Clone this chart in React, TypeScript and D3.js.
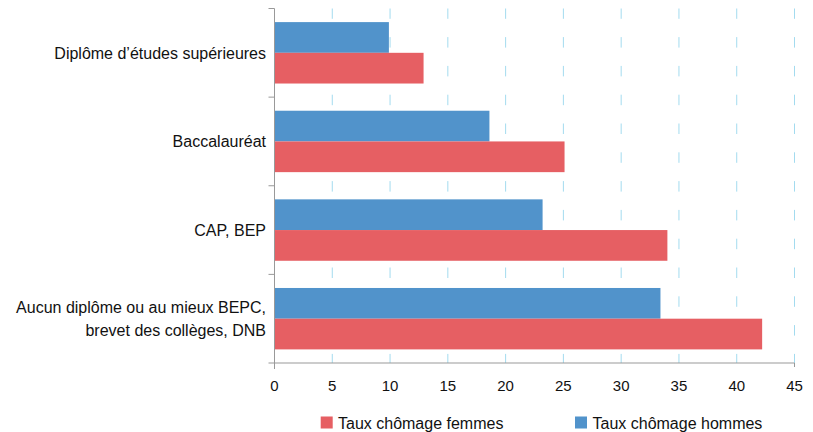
import React from "react";
import * as d3 from "d3";

const categories: string[][] = [
  ["Diplôme d’études supérieures"],
  ["Baccalauréat"],
  ["CAP, BEP"],
  ["Aucun diplôme ou au mieux BEPC,", "brevet des collèges, DNB"],
];
const femmes: number[] = [12.9, 25.1, 34.0, 42.2];
const hommes: number[] = [9.9, 18.6, 23.2, 33.4];
const xTicks: number[] = [0, 5, 10, 15, 20, 25, 30, 35, 40, 45];
const seriesNames: string[] = ["Taux chômage femmes", "Taux chômage hommes"];

const W = 813;
const H = 432;
const RED = "#e65f63";
const BLUE = "#5193cb";
const GRID = "#a3dbef";
const AXIS = "#999999";
const FONT = "'Liberation Sans', Arial, sans-serif";

export default function App() {
  const x = d3.scaleLinear().domain([0, 45]).range([274.5, 794.5]);
  const keys = categories.map((_, i) => String(i));
  const y = d3.scaleBand<string>().domain(keys).range([8.5, 363]).paddingInner(0.307).paddingOuter(0.1535);
  const inner = d3.scaleBand<string>().domain(["h", "f"]).range([0, y.bandwidth()]);
  const step = y.step();
  const top = 8.5;
  const bottom = 363;
  const boundaries = d3.range(0, categories.length).map((i) => top + i * step);

  return (
    <div style={{ position: "fixed", left: 0, top: 0 }}>
      <svg width={W} height={H} style={{ display: "block", background: "#fff" }} fontFamily={FONT}>
        {xTicks.filter((t) => t > 0).map((t) => (
          <line key={"g" + t} x1={x(t)} x2={x(t)} y1={top} y2={bottom} stroke={GRID} strokeWidth={1} strokeDasharray="10.5 18.3" strokeDashoffset={0.2} />
        ))}
        {categories.map((c, i) => {
          const y0 = y(String(i))!;
          return (
            <g key={"b" + i}>
              <rect x={x(0)} y={y0 + inner("h")!} width={x(hommes[i]) - x(0)} height={inner.bandwidth()} fill={BLUE} />
              <rect x={x(0)} y={y0 + inner("f")!} width={x(femmes[i]) - x(0)} height={inner.bandwidth()} fill={RED} />
            </g>
          );
        })}
        <line x1={x(0)} x2={x(0)} y1={top} y2={bottom + 6} stroke={AXIS} strokeWidth={1} />
        <line x1={x(0) - 6} x2={x(45)} y1={bottom} y2={bottom} stroke={AXIS} strokeWidth={1} />
        <line x1={x(45)} x2={x(45)} y1={bottom} y2={bottom + 4} stroke={AXIS} strokeWidth={1} />
        {boundaries.map((b, i) => (
          <line key={"t" + i} x1={x(0) - 6} x2={x(0)} y1={b} y2={b} stroke={AXIS} strokeWidth={1} />
        ))}
        {xTicks.map((t) => (
          <text key={"l" + t} x={x(t)} y={391.3} textAnchor="middle" fontSize={15} fill="#111">
            {t}
          </text>
        ))}
        {categories.map((c, i) => {
          const cy = y(String(i))! + y.bandwidth() / 2;
          const n = c.length;
          return (
            <text key={"c" + i} x={266} textAnchor="end" fontSize={16} fill="#111">
              {c.map((line, j) => (
                <tspan key={j} x={266} y={cy + 5.7 + (j - (n - 1) / 2) * 23.3}>
                  {line}
                </tspan>
              ))}
            </text>
          );
        })}
        <rect x={320.7} y={416.5} width={12} height={12} fill={RED} />
        <text x={338} y={428.8} fontSize={16} fill="#111">{seriesNames[0]}</text>
        <rect x={575} y={416.5} width={12} height={12} fill={BLUE} />
        <text x={592.5} y={428.8} fontSize={16} fill="#111">{seriesNames[1]}</text>
      </svg>
    </div>
  );
}
